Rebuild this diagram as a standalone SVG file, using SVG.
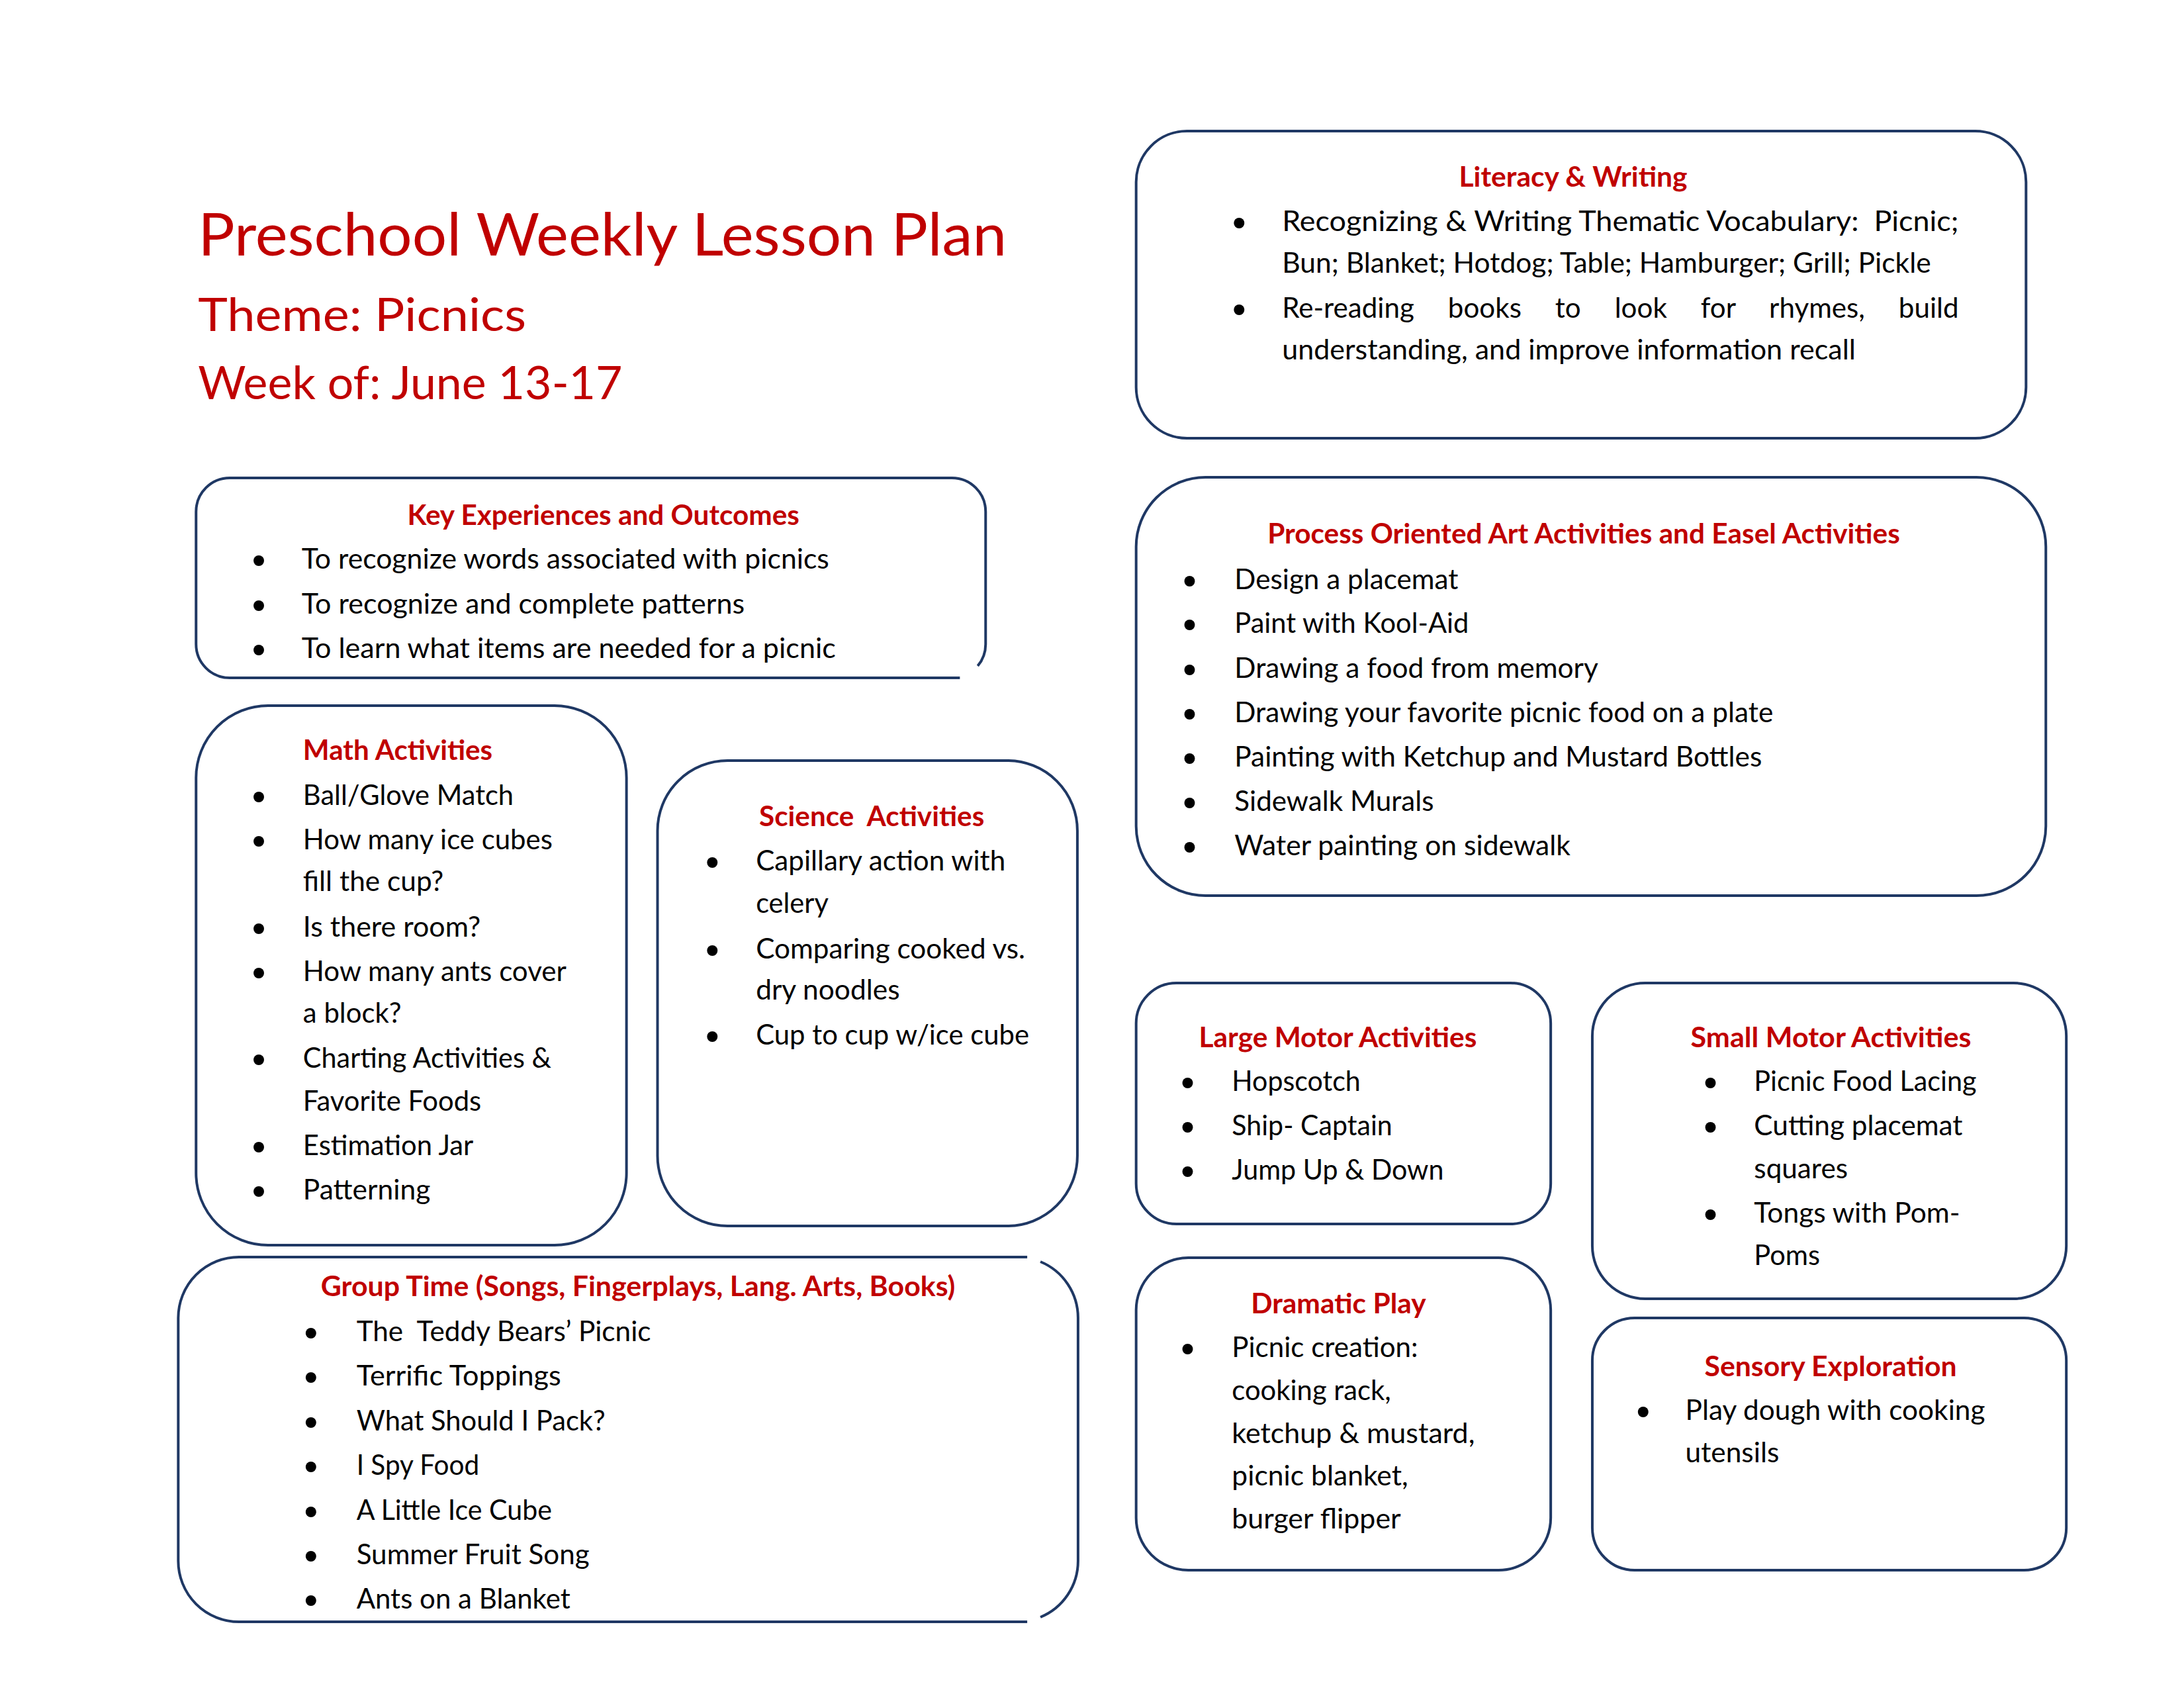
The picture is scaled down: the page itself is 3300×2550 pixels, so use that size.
<svg xmlns="http://www.w3.org/2000/svg" width="3300" height="2550" viewBox="0 0 3300 2550">
<style>
.box{fill:#fff;stroke:#1F3864;stroke-width:4}
.open{fill:none;stroke:#1F3864;stroke-width:4}
.ttl{font-family:Lato,'Liberation Sans',sans-serif;fill:#C00000}
.h{font-family:Lato,'Liberation Sans',sans-serif;font-weight:bold;font-size:42px;fill:#C00000}
.t{font-family:Lato,'Liberation Sans',sans-serif;font-size:42px;fill:#000}
.b{fill:#000}
</style>
<rect width="3300" height="2550" fill="#fff"/>
<g id="page" transform="translate(-1,0) scale(0.9975,1)">

<g id="title">
<text class="ttl" x="301" y="386" font-size="90" textLength="1225" lengthAdjust="spacingAndGlyphs">Preschool Weekly Lesson Plan</text>
<text class="ttl" x="301" y="500" font-size="70" textLength="497" lengthAdjust="spacingAndGlyphs">Theme: Picnics</text>
<text class="ttl" x="301" y="603" font-size="70" textLength="643" lengthAdjust="spacingAndGlyphs">Week of: June 13-17</text>
</g>

<g id="connectors"></g>

<g id="literacy">
<rect class="box" x="1722" y="198" width="1348" height="464" rx="77" ry="77"/>
<text class="h" x="2211" y="282" textLength="346" lengthAdjust="spacingAndGlyphs">Literacy &amp; Writing</text>
<circle class="b" cx="1878" cy="337" r="8"/>
<text class="t" x="1943" y="349" textLength="1025" lengthAdjust="spacingAndGlyphs" xml:space="preserve">Recognizing &amp; Writing Thematic Vocabulary:  Picnic;</text>
<text class="t" x="1943" y="412" textLength="983" lengthAdjust="spacingAndGlyphs">Bun; Blanket; Hotdog; Table; Hamburger; Grill; Pickle</text>
<circle class="b" cx="1878" cy="468" r="8"/>
<text class="t" x="1943" y="480" textLength="1025" lengthAdjust="spacingAndGlyphs" word-spacing="40">Re-reading books to look for rhymes, build</text>
<text class="t" x="1943" y="543" textLength="869" lengthAdjust="spacingAndGlyphs">understanding, and improve information recall</text>
</g>

<g id="key-experiences">
<path class="open" d="M349,722 H1443 A51,51 0 0 1 1494,773 V973 A51,51 0 0 1 1482,1006 M1455,1024 H349 A51,51 0 0 1 298,973 V773 A51,51 0 0 1 349,722"/>
<text class="h" x="618" y="793" textLength="594" lengthAdjust="spacingAndGlyphs">Key Experiences and Outcomes</text>
<circle class="b" cx="393" cy="847" r="8"/>
<text class="t" x="458" y="859" textLength="799" lengthAdjust="spacingAndGlyphs">To recognize words associated with picnics</text>
<circle class="b" cx="393" cy="915" r="8"/>
<text class="t" x="458" y="927" textLength="671" lengthAdjust="spacingAndGlyphs">To recognize and complete patterns</text>
<circle class="b" cx="393" cy="982" r="8"/>
<text class="t" x="458" y="994" textLength="809" lengthAdjust="spacingAndGlyphs">To learn what items are needed for a picnic</text>
</g>

<g id="process-art">
<rect class="box" x="1722" y="721" width="1378" height="632" rx="105" ry="105"/>
<text class="h" x="1921" y="821" textLength="958" lengthAdjust="spacingAndGlyphs">Process Oriented Art Activities and Easel Activities</text>
<circle class="b" cx="1803" cy="878" r="8"/>
<text class="t" x="1871" y="890" textLength="339" lengthAdjust="spacingAndGlyphs">Design a placemat</text>
<circle class="b" cx="1803" cy="944" r="8"/>
<text class="t" x="1871" y="956" textLength="355" lengthAdjust="spacingAndGlyphs">Paint with Kool-Aid</text>
<circle class="b" cx="1803" cy="1012" r="8"/>
<text class="t" x="1871" y="1024" textLength="551" lengthAdjust="spacingAndGlyphs">Drawing a food from memory</text>
<circle class="b" cx="1803" cy="1079" r="8"/>
<text class="t" x="1871" y="1091" textLength="816" lengthAdjust="spacingAndGlyphs">Drawing your favorite picnic food on a plate</text>
<circle class="b" cx="1803" cy="1146" r="8"/>
<text class="t" x="1871" y="1158" textLength="799" lengthAdjust="spacingAndGlyphs">Painting with Ketchup and Mustard Bottles</text>
<circle class="b" cx="1803" cy="1213" r="8"/>
<text class="t" x="1871" y="1225" textLength="302" lengthAdjust="spacingAndGlyphs">Sidewalk Murals</text>
<circle class="b" cx="1803" cy="1280" r="8"/>
<text class="t" x="1871" y="1292" textLength="509" lengthAdjust="spacingAndGlyphs">Water painting on sidewalk</text>
</g>

<g id="math">
<rect class="box" x="298" y="1066" width="652" height="815" rx="109" ry="109"/>
<text class="h" x="460" y="1148" textLength="287" lengthAdjust="spacingAndGlyphs">Math Activities</text>
<circle class="b" cx="393" cy="1204" r="8"/>
<text class="t" x="460" y="1216" textLength="319" lengthAdjust="spacingAndGlyphs">Ball/Glove Match</text>
<circle class="b" cx="393" cy="1271" r="8"/>
<text class="t" x="460" y="1283" textLength="378" lengthAdjust="spacingAndGlyphs">How many ice cubes</text>
<text class="t" x="460" y="1346" textLength="213" lengthAdjust="spacingAndGlyphs">fill the cup?</text>
<circle class="b" cx="393" cy="1403" r="8"/>
<text class="t" x="460" y="1415" textLength="269" lengthAdjust="spacingAndGlyphs">Is there room?</text>
<circle class="b" cx="393" cy="1470" r="8"/>
<text class="t" x="460" y="1482" textLength="399" lengthAdjust="spacingAndGlyphs">How many ants cover</text>
<text class="t" x="460" y="1545" textLength="149" lengthAdjust="spacingAndGlyphs">a block?</text>
<circle class="b" cx="393" cy="1601" r="8"/>
<text class="t" x="460" y="1613" textLength="376" lengthAdjust="spacingAndGlyphs">Charting Activities &amp;</text>
<text class="t" x="460" y="1678" textLength="270" lengthAdjust="spacingAndGlyphs">Favorite Foods</text>
<circle class="b" cx="393" cy="1733" r="8"/>
<text class="t" x="460" y="1745" textLength="258" lengthAdjust="spacingAndGlyphs">Estimation Jar</text>
<circle class="b" cx="393" cy="1800" r="8"/>
<text class="t" x="460" y="1812" textLength="193" lengthAdjust="spacingAndGlyphs">Patterning</text>
</g>

<g id="science">
<rect class="box" x="997" y="1149" width="636" height="703" rx="106" ry="106"/>
<text class="h" x="1151" y="1248" textLength="341" lengthAdjust="spacingAndGlyphs" xml:space="preserve">Science  Activities</text>
<circle class="b" cx="1080" cy="1303" r="8"/>
<text class="t" x="1146" y="1315" textLength="378" lengthAdjust="spacingAndGlyphs">Capillary action with</text>
<text class="t" x="1146" y="1379" textLength="110" lengthAdjust="spacingAndGlyphs">celery</text>
<circle class="b" cx="1080" cy="1436" r="8"/>
<text class="t" x="1146" y="1448" textLength="408" lengthAdjust="spacingAndGlyphs">Comparing cooked vs.</text>
<text class="t" x="1146" y="1510" textLength="218" lengthAdjust="spacingAndGlyphs">dry noodles</text>
<circle class="b" cx="1080" cy="1566" r="8"/>
<text class="t" x="1146" y="1578" textLength="414" lengthAdjust="spacingAndGlyphs">Cup to cup w/ice cube</text>
</g>

<g id="group-time">
<path class="open" d="M363,1899 H1557 M1577,1906 A92,92 0 0 1 1634,1991 V2358 A92,92 0 0 1 1577,2443 M1557,2450 H363 A92,92 0 0 1 271,2358 V1991 A92,92 0 0 1 363,1899"/>
<text class="h" x="487" y="1958" textLength="961" lengthAdjust="spacingAndGlyphs">Group Time (Songs, Fingerplays, Lang. Arts, Books)</text>
<circle class="b" cx="472" cy="2014" r="8"/>
<text class="t" x="541" y="2026" textLength="446" lengthAdjust="spacingAndGlyphs" xml:space="preserve">The  Teddy Bears’ Picnic</text>
<circle class="b" cx="472" cy="2081" r="8"/>
<text class="t" x="541" y="2093" textLength="310" lengthAdjust="spacingAndGlyphs">Terrific Toppings</text>
<circle class="b" cx="472" cy="2149" r="8"/>
<text class="t" x="541" y="2161" textLength="377" lengthAdjust="spacingAndGlyphs">What Should I Pack?</text>
<circle class="b" cx="472" cy="2216" r="8"/>
<text class="t" x="541" y="2228" textLength="186" lengthAdjust="spacingAndGlyphs">I Spy Food</text>
<circle class="b" cx="472" cy="2284" r="8"/>
<text class="t" x="541" y="2296" textLength="296" lengthAdjust="spacingAndGlyphs">A Little Ice Cube</text>
<circle class="b" cx="472" cy="2351" r="8"/>
<text class="t" x="541" y="2363" textLength="353" lengthAdjust="spacingAndGlyphs">Summer Fruit Song</text>
<circle class="b" cx="472" cy="2418" r="8"/>
<text class="t" x="541" y="2430" textLength="324" lengthAdjust="spacingAndGlyphs">Ants on a Blanket</text>
</g>

<g id="large-motor">
<rect class="box" x="1722" y="1485" width="628" height="364" rx="61" ry="61"/>
<text class="h" x="1817" y="1582" textLength="421" lengthAdjust="spacingAndGlyphs">Large Motor Activities</text>
<circle class="b" cx="1800" cy="1636" r="8"/>
<text class="t" x="1867" y="1648" textLength="195" lengthAdjust="spacingAndGlyphs">Hopscotch</text>
<circle class="b" cx="1800" cy="1703" r="8"/>
<text class="t" x="1867" y="1715" textLength="243" lengthAdjust="spacingAndGlyphs">Ship- Captain</text>
<circle class="b" cx="1800" cy="1770" r="8"/>
<text class="t" x="1867" y="1782" textLength="321" lengthAdjust="spacingAndGlyphs">Jump Up &amp; Down</text>
</g>

<g id="small-motor">
<rect class="box" x="2413" y="1485" width="718" height="477" rx="80" ry="80"/>
<text class="h" x="2562" y="1582" textLength="425" lengthAdjust="spacingAndGlyphs">Small Motor Activities</text>
<circle class="b" cx="2592" cy="1636" r="8"/>
<text class="t" x="2658" y="1648" textLength="337" lengthAdjust="spacingAndGlyphs">Picnic Food Lacing</text>
<circle class="b" cx="2592" cy="1703" r="8"/>
<text class="t" x="2658" y="1715" textLength="316" lengthAdjust="spacingAndGlyphs">Cutting placemat</text>
<text class="t" x="2658" y="1780" textLength="142" lengthAdjust="spacingAndGlyphs">squares</text>
<circle class="b" cx="2592" cy="1835" r="8"/>
<text class="t" x="2658" y="1847" textLength="312" lengthAdjust="spacingAndGlyphs">Tongs with Pom-</text>
<text class="t" x="2658" y="1911" textLength="100" lengthAdjust="spacingAndGlyphs">Poms</text>
</g>

<g id="dramatic-play">
<rect class="box" x="1722" y="1900" width="628" height="472" rx="79" ry="79"/>
<text class="h" x="1896" y="1984" textLength="265" lengthAdjust="spacingAndGlyphs">Dramatic Play</text>
<circle class="b" cx="1800" cy="2038" r="8"/>
<text class="t" x="1867" y="2050" textLength="282" lengthAdjust="spacingAndGlyphs">Picnic creation:</text>
<text class="t" x="1867" y="2115" textLength="241" lengthAdjust="spacingAndGlyphs">cooking rack,</text>
<text class="t" x="1867" y="2180" textLength="368" lengthAdjust="spacingAndGlyphs">ketchup &amp; mustard,</text>
<text class="t" x="1867" y="2244" textLength="267" lengthAdjust="spacingAndGlyphs">picnic blanket,</text>
<text class="t" x="1867" y="2309" textLength="256" lengthAdjust="spacingAndGlyphs">burger flipper</text>
</g>

<g id="sensory">
<rect class="box" x="2413" y="1991" width="718" height="381" rx="64" ry="64"/>
<text class="h" x="2583" y="2079" textLength="382" lengthAdjust="spacingAndGlyphs">Sensory Exploration</text>
<circle class="b" cx="2490" cy="2133" r="8"/>
<text class="t" x="2554" y="2145" textLength="454" lengthAdjust="spacingAndGlyphs">Play dough with cooking</text>
<text class="t" x="2554" y="2209" textLength="142" lengthAdjust="spacingAndGlyphs">utensils</text>
</g>
</g>
</svg>
